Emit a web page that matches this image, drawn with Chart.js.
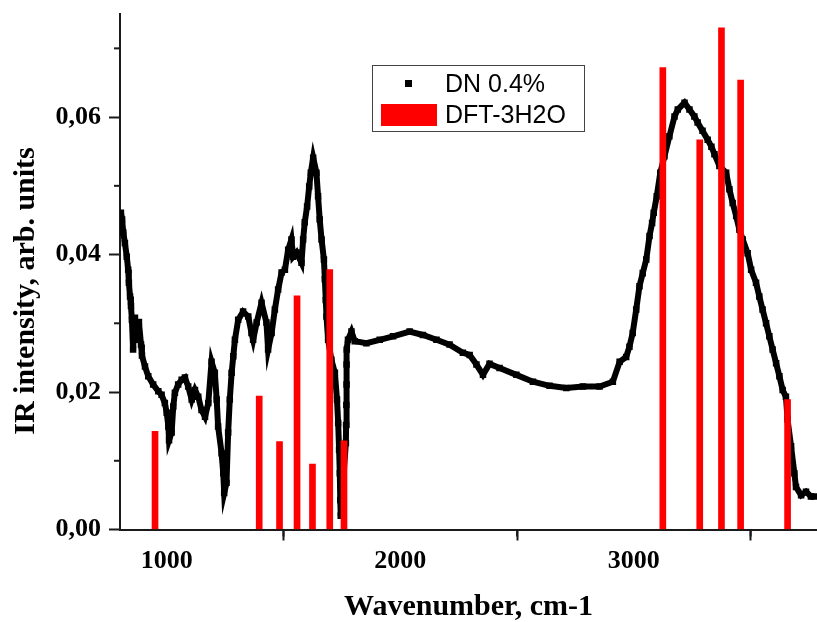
<!DOCTYPE html>
<html>
<head>
<meta charset="utf-8">
<title>IR spectrum</title>
<script src="https://cdn.jsdelivr.net/npm/chart.js@4.4.1/dist/chart.umd.min.js"></script>
<style>
  html, body { margin: 0; padding: 0; background: #fff; }
  #wrap { width: 817px; height: 622px; }
</style>
</head>
<body>
<div id="wrap"><canvas id="ir" width="817" height="622"></canvas></div>
<script>
const dnWavenumber = [
  804, 809, 814, 821, 829, 835, 838, 843, 847, 851, 856, 864, 873, 881, 890, 894,
  907, 921, 942, 964, 978, 992, 1000, 1007, 1010, 1021, 1028, 1035, 1049, 1064, 1078, 1092,
  1107, 1121, 1135, 1149, 1164, 1178, 1192, 1206, 1214, 1220, 1235, 1242, 1246, 1256, 1263, 1270,
  1278, 1285, 1292, 1306, 1327, 1349, 1363, 1370, 1385, 1406, 1427, 1434, 1449, 1463, 1477, 1492,
  1506, 1520, 1534, 1541, 1556, 1577, 1584, 1591, 1601, 1610, 1617, 1627, 1641, 1648, 1655, 1663,
  1673, 1677, 1681, 1684, 1691, 1705, 1720, 1729, 1734, 1738, 1741, 1743, 1745,
  1767, 1768, 1769, 1770, 1770, 1771, 1776, 1791, 1805, 1855, 1912, 1969, 2040, 2097, 2155, 2211,
  2268, 2297, 2326, 2354, 2382, 2425, 2497, 2568, 2639, 2711, 2782, 2853, 2910, 2939, 2967, 2981,
  2995, 3010, 3024, 3038, 3053, 3067, 3078, 3085, 3098, 3113, 3131, 3152, 3174, 3188, 3217, 3238,
  3259, 3273, 3294, 3316, 3332, 3345, 3366, 3395, 3409, 3423, 3438, 3452, 3466, 3487, 3502, 3523,
  3537, 3551, 3566, 3580, 3594, 3609, 3623, 3637, 3651, 3658, 3673, 3687, 3694, 3716, 3737, 3758, 3772
];
const dnIntensity = [
  0.0461, 0.0451, 0.0432, 0.0417, 0.0397, 0.0378, 0.0359, 0.0339, 0.0325, 0.0305, 0.0262, 0.0308, 0.0276, 0.0302, 0.0269, 0.0253,
  0.0237, 0.0223, 0.0211, 0.0201, 0.0196, 0.0184, 0.0170, 0.0150, 0.0130, 0.0141, 0.0179, 0.0199, 0.0211, 0.0218, 0.0221, 0.0208,
  0.0189, 0.0203, 0.0193, 0.0174, 0.0164, 0.0184, 0.0244, 0.0228, 0.0189, 0.0150, 0.0111, 0.0082, 0.0053, 0.0068, 0.0141, 0.0189,
  0.0228, 0.0252, 0.0276, 0.0305, 0.0317, 0.0310, 0.0286, 0.0276, 0.0301, 0.0330, 0.0301, 0.0262, 0.0286, 0.0320, 0.0349, 0.0374,
  0.0378, 0.0407, 0.0422, 0.0397, 0.0403, 0.0388, 0.0422, 0.0447, 0.0470, 0.0499, 0.0519, 0.0541, 0.0519, 0.0485, 0.0451, 0.0422,
  0.0393, 0.0364, 0.0334, 0.0310, 0.0276, 0.0247, 0.0228, 0.0189, 0.0155, 0.0116, 0.0082, 0.0043, 0.0020,
  0.0126, 0.0152, 0.0181, 0.0211, 0.0240, 0.0262, 0.0276, 0.0288, 0.0274, 0.0271, 0.0276, 0.0281, 0.0288, 0.0283, 0.0276, 0.0269,
  0.0257, 0.0254, 0.0240, 0.0225, 0.0241, 0.0235, 0.0225, 0.0215, 0.0209, 0.0206, 0.0208, 0.0208, 0.0215, 0.0244, 0.0251, 0.0266,
  0.0286, 0.0320, 0.0354, 0.0373, 0.0393, 0.0427, 0.0446, 0.0461, 0.0485, 0.0519, 0.0543, 0.0572, 0.0601, 0.0611, 0.0621, 0.0611,
  0.0601, 0.0592, 0.0580, 0.0567, 0.0557, 0.0546, 0.0529, 0.0519, 0.0495, 0.0475, 0.0456, 0.0436, 0.0422, 0.0402, 0.0378, 0.0359,
  0.0339, 0.0320, 0.0300, 0.0281, 0.0262, 0.0242, 0.0223, 0.0203, 0.0193, 0.0160, 0.0121, 0.0082, 0.0062, 0.0050, 0.0055, 0.0048, 0.0048
];

// calculated lines (DFT-3H2O)
const dftWavenumber = [950, 1396, 1483, 1558, 1624, 1698, 1759, 3124, 3282, 3375, 3457, 3658];
const dftIntensity = [0.0143, 0.0194, 0.0128, 0.0340, 0.0095, 0.0378, 0.0129, 0.0672, 0.0567, 0.0730, 0.0654, 0.0189];

const xTicks = [1000, 2000, 3000];
const xMinorTicks = [1500, 2500, 3500];
const yTicks = [0, 0.02, 0.04, 0.06];
const yMinorTicks = [0.01, 0.03, 0.05, 0.07];

const axisColor = '#1a1a1a';
const serif = '"Liberation Serif", "Times New Roman", serif';
const sans = '"Liberation Sans", Arial, sans-serif';

// minor ticks, legend box and y title
const decor = {
  id: 'decor',
  afterDraw(chart) {
    const { ctx, scales: { x, y } } = chart;
    ctx.save();
    ctx.strokeStyle = axisColor;
    ctx.lineWidth = 2;
    xMinorTicks.forEach(v => {
      const px = x.getPixelForValue(v);
      ctx.beginPath(); ctx.moveTo(px, x.top); ctx.lineTo(px, x.top + 7); ctx.stroke();
    });
    yMinorTicks.forEach(v => {
      const py = y.getPixelForValue(v);
      ctx.beginPath(); ctx.moveTo(y.right, py); ctx.lineTo(y.right - 6, py); ctx.stroke();
    });

    // legend
    const ds = chart.data.datasets;
    ctx.lineWidth = 1;
    ctx.strokeStyle = '#444';
    ctx.strokeRect(372.5, 65.5, 212, 66);
    ctx.fillStyle = ds[0].pointBackgroundColor;
    ctx.fillRect(405, 80, 7, 7);
    ctx.fillStyle = ds[1].backgroundColor;
    ctx.fillRect(381, 104, 56, 22);
    ctx.fillStyle = '#000';
    ctx.font = '25px ' + sans;
    ctx.textAlign = 'left';
    ctx.textBaseline = 'alphabetic';
    ctx.fillText(ds[0].label, 445, 92);
    ctx.fillText(ds[1].label, 445, 123);

    // y axis title
    ctx.translate(26, 291);
    ctx.rotate(-Math.PI / 2);
    ctx.font = 'bold 30px ' + serif;
    ctx.textAlign = 'center';
    ctx.textBaseline = 'middle';
    ctx.fillText('IR intensity, arb. units', 0, 0);
    ctx.restore();
  }
};

new Chart(document.getElementById('ir'), {
  type: 'line',
  data: {
    datasets: [
      {
        label: 'DN 0.4%',
        type: 'line',
        data: dnWavenumber.map((w, i) => ({ x: w, y: dnIntensity[i] })),
        borderColor: '#000',
        borderWidth: 6,
        pointStyle: 'rect',
        pointRadius: 4.6,
        pointBackgroundColor: '#000',
        pointBorderWidth: 0,
        tension: 0,
        order: 2
      },
      {
        label: 'DFT-3H2O',
        type: 'bar',
        data: dftWavenumber.map((w, i) => ({ x: w, y: dftIntensity[i] })),
        backgroundColor: '#ff0000',
        borderWidth: 0,
        barThickness: 6,
        grouped: false,
        order: 1
      }
    ]
  },
  options: {
    responsive: false,
    animation: false,
    layout: { autoPadding: false, padding: { top: 14, left: 0, right: 0, bottom: 0 } },
    plugins: { legend: { display: false }, tooltip: { enabled: false } },
    scales: {
      x: {
        type: 'linear',
        min: 800,
        max: 3784,
        offset: false,
        afterBuildTicks: s => { s.ticks = xTicks.map(v => ({ value: v })); },
        afterFit: s => { s.height = 92.5; s.paddingLeft = 0; s.paddingRight = 0; },
        grid: { drawOnChartArea: false, tickLength: 11, tickWidth: 2, tickColor: axisColor },
        border: { color: axisColor, width: 2 },
        ticks: {
          color: '#000',
          padding: 5,
          maxRotation: 0,
          font: { family: serif, size: 26, weight: 'bold' },
          callback: v => String(v)
        },
        title: {
          display: true,
          text: 'Wavenumber, cm-1',
          color: '#000',
          padding: { top: 0, bottom: 0 },
          font: { family: serif, size: 30, weight: 'bold', lineHeight: 1 }
        }
      },
      y: {
        min: 0,
        max: 0.075,
        afterBuildTicks: s => { s.ticks = yTicks.map(v => ({ value: v })); },
        afterFit: s => { s.width = 120; s.paddingTop = 0; s.paddingBottom = 0; },
        grid: { drawOnChartArea: false, tickLength: 11, tickWidth: 2, tickColor: axisColor },
        border: { color: axisColor, width: 2 },
        ticks: {
          color: '#000',
          padding: 8,
          font: { family: serif, size: 26, weight: 'bold' },
          callback: v => v.toFixed(2).replace('.', ',')
        }
      }
    }
  },
  plugins: [decor]
});
</script>
</body>
</html>
